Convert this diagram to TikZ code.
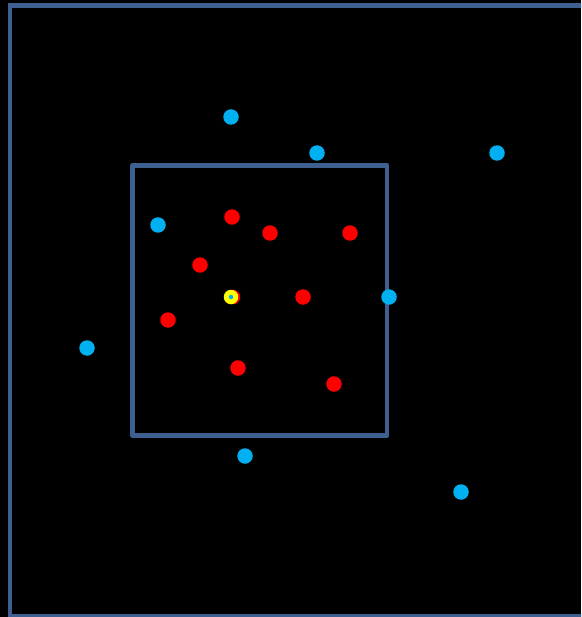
\documentclass[tikz,border=0pt]{standalone}
\begin{document}
\begin{tikzpicture}[x=1pt,y=-1pt,
  framecol/.style={draw=frameblue, line width=4.5pt},
  cyandot/.style={circle, fill=dotcyan, inner sep=0pt, minimum size=15.5pt},
  reddot/.style={circle, fill=dotred, inner sep=0pt, minimum size=15.5pt},
  yellowdot/.style={circle, fill=dotyellow, inner sep=0pt, minimum size=14.5pt},
  centerdot/.style={circle, fill=dotcyan, inner sep=0pt, minimum size=4.5pt}]
\definecolor{frameblue}{RGB}{62,96,145}
\definecolor{dotcyan}{RGB}{0,176,240}
\definecolor{dotred}{RGB}{255,0,0}
\definecolor{dotyellow}{RGB}{255,255,0}
\useasboundingbox (0,0) rectangle (581,617);
\fill[black] (0,0) rectangle (581,617);
\clip (0,0) rectangle (581,617);
% outer frame
\draw[framecol] (10,5.5) rectangle (600,616);
% inner square
\draw[framecol, line join=round] (132.5,165.5) rectangle (387,435.5);
% cyan dots
\node[cyandot] (c1) at (231,117) {};
\node[cyandot] (c2) at (317,153) {};
\node[cyandot] (c3) at (497,153) {};
\node[cyandot] (c4) at (158,225) {};
\node[cyandot] (c5) at (389,297) {};
\node[cyandot] (c6) at (87,348) {};
\node[cyandot] (c7) at (245,456) {};
\node[cyandot] (c8) at (461,492) {};
% red dots
\node[reddot] (r1) at (232,217) {};
\node[reddot] (r2) at (270,233) {};
\node[reddot] (r3) at (350,233) {};
\node[reddot] (r4) at (200,265) {};
\node[reddot] (r5) at (303,297) {};
\node[reddot] (r6) at (168,320) {};
\node[reddot] (r7) at (238,368) {};
\node[reddot] (r8) at (334,384) {};
\node[reddot, minimum size=14.5pt] (r0) at (233,297) {};
% centre
\node[yellowdot] (y0) at (231,297) {};
\node[centerdot] (cc) at (y0.center) {};
\end{tikzpicture}
\end{document}
